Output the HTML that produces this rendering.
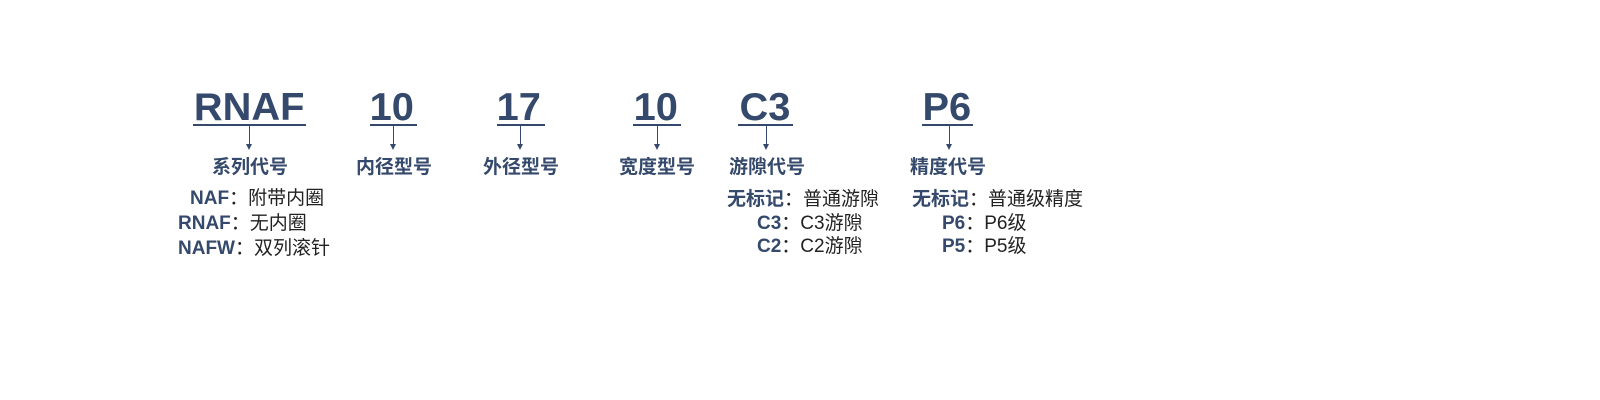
<!DOCTYPE html>
<html><head><meta charset="utf-8"><style>
body{margin:0;width:1600px;height:400px;background:#fff;position:relative;overflow:hidden;font-family:"Liberation Sans","Noto Sans CJK SC",sans-serif}
.big{position:absolute;top:88px;font-size:39px;line-height:39px;font-weight:bold;color:#34496b;transform:scaleX(1.02)}
.ul{position:absolute;top:124px;height:2px;background:#34496b}
.ar{position:absolute;top:125px;width:1px;height:21px;background:#34496b}
.ah{position:absolute;top:144px;width:0;height:0;border-left:3px solid transparent;border-right:3px solid transparent;border-top:6px solid #34496b}
.lb{position:absolute;top:156px;font-size:19px;line-height:24px;font-weight:bold;color:#34496b;width:100px;text-align:center;margin-left:-50px}
.t{position:absolute;font-size:19px;line-height:24px;color:#222;white-space:nowrap}
.t b{color:#34496b}
</style></head><body>
<div class="big" style="left:195px">RNAF</div>
<div class="ul" style="left:193px;width:113px"></div>
<div class="ar" style="left:249px"></div><div class="ah" style="left:246px"></div>
<div class="lb" style="left:250px">系列代号</div>

<div class="big" style="left:370px">10</div>
<div class="ul" style="left:370px;width:47px"></div>
<div class="ar" style="left:393px"></div><div class="ah" style="left:390px"></div>
<div class="lb" style="left:394px">内径型号</div>

<div class="big" style="left:497px">17</div>
<div class="ul" style="left:497px;width:48px"></div>
<div class="ar" style="left:520px"></div><div class="ah" style="left:517px"></div>
<div class="lb" style="left:521px">外径型号</div>

<div class="big" style="left:634px">10</div>
<div class="ul" style="left:633px;width:48px"></div>
<div class="ar" style="left:657px"></div><div class="ah" style="left:654px"></div>
<div class="lb" style="left:657px">宽度型号</div>

<div class="big" style="left:740px">C3</div>
<div class="ul" style="left:738px;width:55px"></div>
<div class="ar" style="left:766px"></div><div class="ah" style="left:763px"></div>
<div class="lb" style="left:767px">游隙代号</div>

<div class="big" style="left:923px">P6</div>
<div class="ul" style="left:922px;width:51px"></div>
<div class="ar" style="left:949px"></div><div class="ah" style="left:946px"></div>
<div class="lb" style="left:948px">精度代号</div>

<div class="t" style="left:190px;top:187px"><b>NAF</b>：附带内圈</div>
<div class="t" style="left:178px;top:212px"><b>RNAF</b>：无内圈</div>
<div class="t" style="left:178px;top:237px"><b>NAFW</b>：双列滚针</div>

<div class="t" style="left:727px;top:188px"><b>无标记</b>：普通游隙</div>
<div class="t" style="left:757px;top:212px"><b>C3</b>：C3游隙</div>
<div class="t" style="left:757px;top:235px"><b>C2</b>：C2游隙</div>

<div class="t" style="left:912px;top:188px"><b>无标记</b>：普通级精度</div>
<div class="t" style="left:942px;top:212px"><b>P6</b>：P6级</div>
<div class="t" style="left:942px;top:235px"><b>P5</b>：P5级</div>
</body></html>
